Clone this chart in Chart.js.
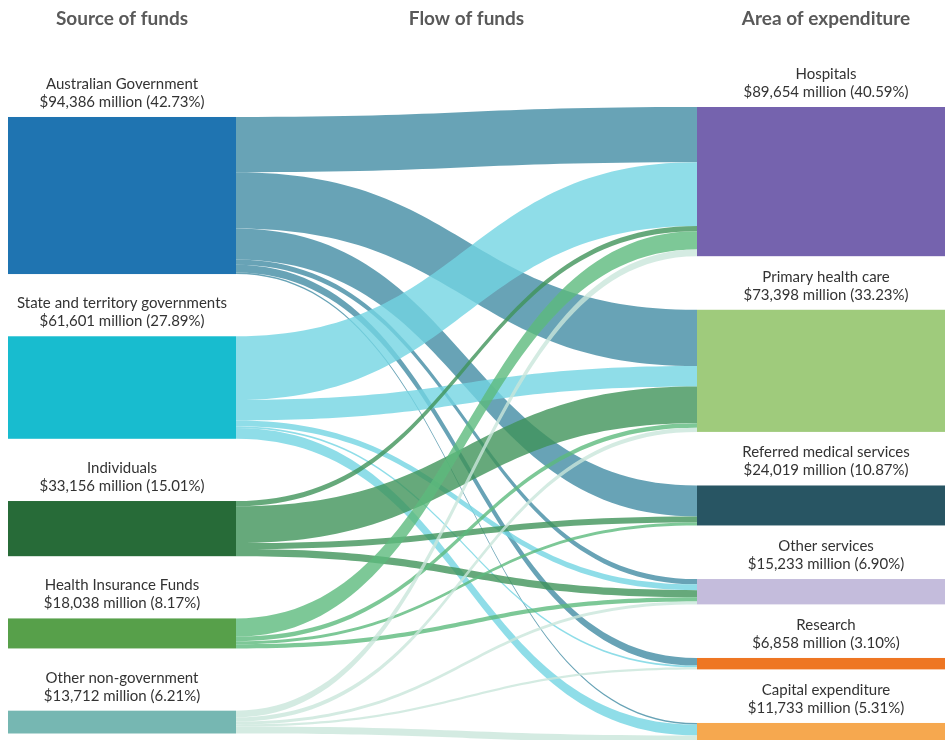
<!DOCTYPE html>
<html>
<head>
<meta charset="utf-8">
<script src="https://cdn.jsdelivr.net/npm/chart.js@4.4.1/dist/chart.umd.min.js"></script>
<style>
  html, body { margin: 0; padding: 0; background: #fff; }
  #wrap { width: 945px; height: 740px; position: relative; }
</style>
</head>
<body>
<div id="wrap"><canvas id="sankey" width="945" height="740"></canvas></div>
<script>
// --- Datos ---
const headers = ['Source of funds', 'Flow of funds', 'Area of expenditure'];

const sources = ['Australian Government', 'State and territory governments', 'Individuals', 'Health Insurance Funds', 'Other non-government'];
const sourceTotals = [94386, 61601, 33156, 18038, 13712];
const sourceShares = ['42.73%', '27.89%', '15.01%', '8.17%', '6.21%'];

const areas = ['Hospitals', 'Primary health care', 'Referred medical services', 'Other services', 'Research', 'Capital expenditure'];
const areaTotals = [89654, 73398, 24019, 15233, 6858, 11733];
const areaShares = ['40.59%', '33.23%', '10.87%', '6.90%', '3.10%', '5.31%'];

// flujos por fuente ($ millones), en el orden de "areas"
const flowsAustGov    = [33200, 33800, 18600, 3200, 4600, 986];
const flowsStateGov   = [38250, 12300, 0, 3500, 1000, 6551];
const flowsIndividual = [3200, 22100, 3600, 4256, 0, 0];
const flowsInsurance  = [11000, 2700, 1819, 2519, 0, 0];
const flowsOtherNonGov = [4004, 2498, 0, 1758, 1258, 4194];
const flows = [flowsAustGov, flowsStateGov, flowsIndividual, flowsInsurance, flowsOtherNonGov];

// --- Estilo ---
const sourceColors = ['#1f74b1', '#18bccf', '#276b38', '#57a04a', '#76b7b2'];
const linkColors = ['rgba(66,140,164,0.8)', 'rgba(115,212,226,0.8)', 'rgba(64,147,90,0.8)', 'rgba(93,186,125,0.8)', 'rgba(201,230,219,0.8)'];
const areaColors = ['#7563ae', '#9fcb7c', '#285563', '#c4bcdc', '#ee7623', '#f6a84f'];

// posiciones en unidades de las escalas
const LEFT_COL = [0, 228];
const RIGHT_COL = [689, 947];
const X_MAX = 937;
const LEFT_TOP = 6000;
const LEFT_GAP = 37400;
const RIGHT_GAP = 32200;
const Y_MAX = 380400;

const FONT = 'Lato, "Open Sans", sans-serif';

function fmt(n) { return '$' + n.toLocaleString('en-US') + ' million'; }

function stackTops(totals, start, gap) {
    const tops = [];
    let y = start;
    totals.forEach(t => { tops.push(y); y += t + gap; });
    return tops;
}

const sourceTops = stackTops(sourceTotals, LEFT_TOP, LEFT_GAP);
const areaTops = stackTops(areaTotals, 0, RIGHT_GAP);

const sankeyPlugin = {
    id: 'sankeyFlows',
    beforeDatasetsDraw(chart) {
        const { ctx, scales: { x, y } } = chart;
        const x0 = x.getPixelForValue(LEFT_COL[1]);
        const x1 = x.getPixelForValue(RIGHT_COL[0]);
        const xm = (x0 + x1) / 2;

        // offsets acumulados dentro de cada nodo
        const outOffset = sourceTotals.map(() => 0);
        const inOffset = areaTotals.map(() => 0);
        const links = [];
        flows.forEach((row, i) => {
            row.forEach((v, j) => {
                if (!v) return;
                links.push({ i, j, v, s: sourceTops[i] + outOffset[i], t: areaTops[j] + inOffset[j] });
                outOffset[i] += v;
                inOffset[j] += v;
            });
        });

        ctx.save();
        links.forEach(l => {
            const sy0 = y.getPixelForValue(l.s), sy1 = y.getPixelForValue(l.s + l.v);
            const ty0 = y.getPixelForValue(l.t), ty1 = y.getPixelForValue(l.t + l.v);
            ctx.beginPath();
            ctx.moveTo(x0, sy0);
            ctx.bezierCurveTo(xm, sy0, xm, ty0, x1, ty0);
            ctx.lineTo(x1, ty1);
            ctx.bezierCurveTo(xm, ty1, xm, sy1, x0, sy1);
            ctx.closePath();
            ctx.fillStyle = linkColors[l.i];
            ctx.fill();
        });

        // nodos
        const drawNodes = (tops, totals, colors, col) => {
            tops.forEach((top, k) => {
                const px0 = x.getPixelForValue(col[0]), px1 = x.getPixelForValue(col[1]);
                const py0 = y.getPixelForValue(top), py1 = y.getPixelForValue(top + totals[k]);
                ctx.fillStyle = colors[k];
                ctx.fillRect(px0, py0, px1 - px0, py1 - py0);
            });
        };
        drawNodes(sourceTops, sourceTotals, sourceColors, LEFT_COL);
        drawNodes(areaTops, areaTotals, areaColors, RIGHT_COL);

        // etiquetas
        ctx.fillStyle = '#333';
        ctx.font = '15px ' + FONT;
        ctx.textAlign = 'center';
        ctx.textBaseline = 'middle';
        const drawLabels = (names, tops, totals, shares, col) => {
            const cx = x.getPixelForValue((col[0] + col[1]) / 2);
            names.forEach((name, k) => {
                const py = y.getPixelForValue(tops[k]);
                ctx.fillText(name, cx, py - 33);
                ctx.fillText(fmt(totals[k]) + ' (' + shares[k] + ')', cx, py - 15);
            });
        };
        drawLabels(sources, sourceTops, sourceTotals, sourceShares, LEFT_COL);
        drawLabels(areas, areaTops, areaTotals, areaShares, RIGHT_COL);

        // cabeceras
        ctx.fillStyle = '#595959';
        ctx.font = 'bold 19px ' + FONT;
        const hx = [
            x.getPixelForValue((LEFT_COL[0] + LEFT_COL[1]) / 2),
            x.getPixelForValue((LEFT_COL[1] + RIGHT_COL[0]) / 2),
            x.getPixelForValue((RIGHT_COL[0] + RIGHT_COL[1]) / 2)
        ];
        headers.forEach((h, k) => ctx.fillText(h, hx[k], 19));
        ctx.restore();
    }
};

new Chart(document.getElementById('sankey'), {
    type: 'scatter',
    data: { datasets: [{ data: [] }] },
    options: {
        responsive: false,
        animation: false,
        layout: { padding: { left: 8, top: 107, right: 0, bottom: 0 } },
        scales: {
            x: { type: 'linear', min: 0, max: X_MAX, display: false },
            y: { type: 'linear', min: 0, max: Y_MAX, reverse: true, display: false }
        },
        plugins: { legend: { display: false }, tooltip: { enabled: false } }
    },
    plugins: [sankeyPlugin]
});
</script>
</body>
</html>
